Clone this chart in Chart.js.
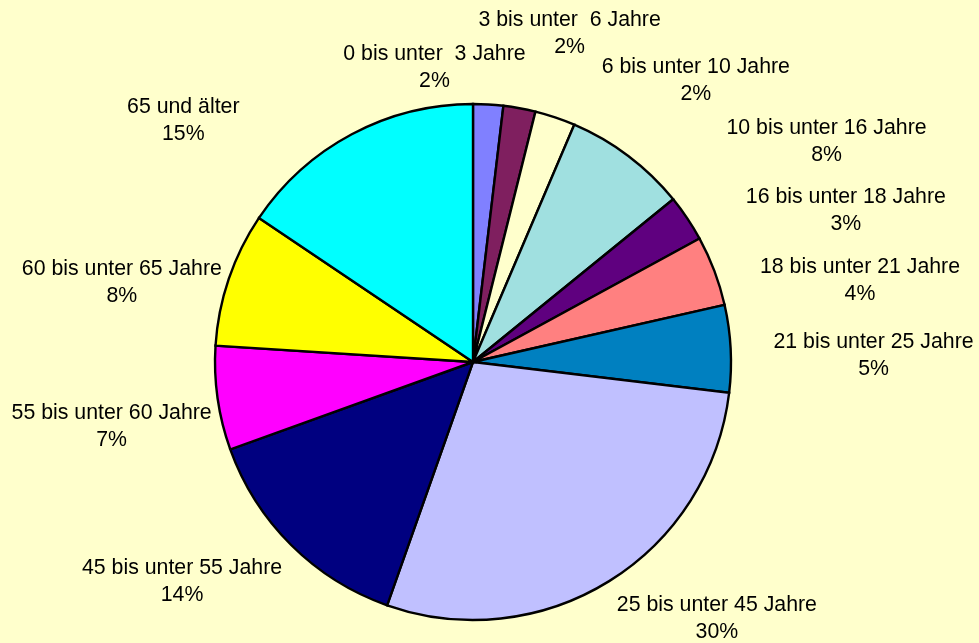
<!DOCTYPE html>
<html>
<head>
<meta charset="utf-8">
<script src="https://cdn.jsdelivr.net/npm/chart.js@4/dist/chart.umd.min.js"></script>
<style>
  html, body { margin: 0; padding: 0; background: #FFFFCC; }
  #wrap { width: 979px; height: 643px; position: relative; }
</style>
</head>
<body>
<div id="wrap"><canvas id="ageChart"></canvas></div>
<script>
const ageGroups = [
  '0 bis unter  3 Jahre',
  '3 bis unter  6 Jahre',
  '6 bis unter 10 Jahre',
  '10 bis unter 16 Jahre',
  '16 bis unter 18 Jahre',
  '18 bis unter 21 Jahre',
  '21 bis unter 25 Jahre',
  '25 bis unter 45 Jahre',
  '45 bis unter 55 Jahre',
  '55 bis unter 60 Jahre',
  '60 bis unter 65 Jahre',
  '65 und älter',
];
// share of each group (%)
const shares = [1.88, 2.01, 2.53, 7.72, 2.92, 4.39, 5.45, 28.5, 14.1, 6.51, 8.42, 15.57];
// percentage text as printed next to the slices
const shareLabels = ['2%', '2%', '2%', '8%', '3%', '4%', '5%', '30%', '14%', '7%', '8%', '15%'];

const sliceColors = [
  '#8080FF', '#7F1F5F', '#FFFFCC', '#A0E0E0', '#5F007F', '#FF8080',
  '#0080C0', '#C0C0FF', '#000080', '#FF00FF', '#FFFF00', '#00FFFF',
];

// extra pixel shift per label (the labels were spread out by hand in the original)
const labelShift = [
  [-60, 5], [31, -33], [106, 3], [129, 19], [63, 16], [38, 25],
  [28, 9], [47, 2], [-28, 7], [8, 22], [2, 17], [-135, 23],
];

const sliceLabels = {
  id: 'sliceLabels',
  afterDatasetsDraw(chart) {
    const ctx = chart.ctx;
    const meta = chart.getDatasetMeta(0);
    ctx.save();
    ctx.font = '21.3px "Liberation Sans", Arial, sans-serif';
    ctx.fillStyle = '#000';
    ctx.textAlign = 'center';
    ctx.textBaseline = 'middle';
    meta.data.forEach((arc, i) => {
      const { x, y, startAngle, endAngle, outerRadius } =
        arc.getProps(['x', 'y', 'startAngle', 'endAngle', 'outerRadius'], true);
      const mid = (startAngle + endAngle) / 2;
      const cos = Math.cos(mid);
      const sin = Math.sin(mid);
      const ax = x + cos * (outerRadius + 15);
      const ay = y + sin * (outerRadius + 15);
      const w = Math.max(ctx.measureText(ageGroups[i]).width, ctx.measureText(shareLabels[i]).width);
      const cx = ax + cos * w / 2 + labelShift[i][0];
      const cy = ay + sin * 27 + labelShift[i][1];
      ctx.fillText(ageGroups[i], cx, cy - 13.5);
      ctx.fillText(shareLabels[i], cx, cy + 13.5);
    });
    ctx.restore();
  },
};

const ctx = document.getElementById('ageChart').getContext('2d');
new Chart(ctx, {
  type: 'pie',
  data: {
    labels: ageGroups,
    datasets: [{
      data: shares,
      backgroundColor: sliceColors,
      borderColor: '#000',
      borderWidth: 2.4,
      borderJoinStyle: 'miter',
      radius: 258,
      hoverOffset: 0,
    }],
  },
  options: {
    responsive: true,
    maintainAspectRatio: false,
    animation: false,
    layout: {
      padding: { left: 0, right: 33, top: 81, bottom: 0 },
    },
    plugins: {
      legend: { display: false },
      tooltip: { enabled: false },
    },
  },
  plugins: [sliceLabels],
});
</script>
</body>
</html>
